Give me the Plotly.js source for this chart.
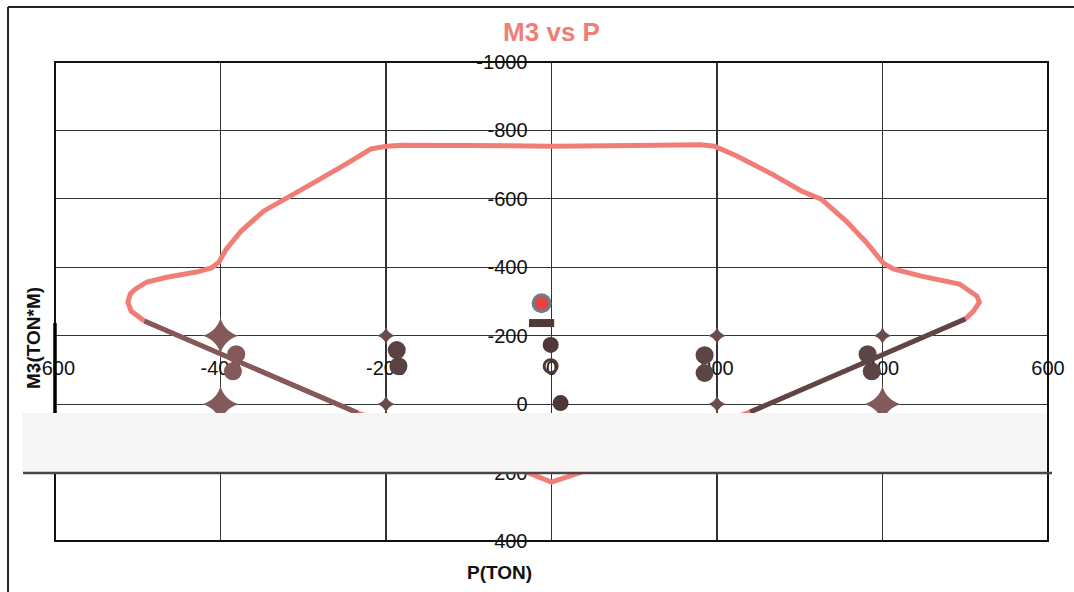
<!DOCTYPE html>
<html>
<head>
<meta charset="utf-8">
<script src="https://cdn.plot.ly/plotly-3.0.1.min.js"></script>
<style>html,body{margin:0;padding:0;background:#fff;}#chart{width:1074px;height:592px;}</style>
</head>
<body>
<div id="chart"></div>
<script>
// ---- data ----
const xTicks = [-600, -400, -200, 0, 200, 400, 600];
const xTickText = ['-600', '-400', '-200', '0', '200', '400', '600'];
const yTicks = [-1000, -800, -600, -400, -200, 0, 200, 400];
const yTickText = ['-1000', '-800', '-600', '-400', '-200', '0', '200', '400'];

// interaction curve (P, M3)
const curveP = [-492, -508, -512, -509, -503, -489, -465, -429, -411, -402, -393, -375, -348, -319, -284, -248, -218, -199, -181, -100, 0, 100, 180, 197, 224, 266, 302, 326, 356, 380, 396, 401, 413, 447, 493, 514, 517, 510, 500, 240, 36, 0, -30, -234, -492];
const curveM = [-243, -272, -298, -322, -336, -357, -371, -386, -398, -415, -453, -506, -564, -602, -652, -702, -746, -754, -757, -756, -754, -756, -758, -754, -725, -673, -623, -599, -535, -474, -430, -412, -395, -374, -351, -316, -298, -272, -249, 23, 199, 228, 199, 26, -243];

// dark lower branch segments
const lowLeftP = [-492, -234];
const lowLeftM = [-243, 26];
const lowRightP = [500, 240];
const lowRightM = [-249, 23];

// demand points
const blobP = [-381, -385, -187, -185, 185, 185, 382, 387];
const blobM = [-146, -96, -158, -111, -143, -91, -146, -96];
const stackP = [-1, 11];
const stackM = [-173, -3];
const barP = [-12];
const barM = [-237];
const ringP = [-1];
const ringM = [-111];
const hotP = [-12];
const hotM = [-295];

// grid-crossing marks
const crossBigP = [-400, -400, 400];
const crossBigM = [-200, 0, 0];
const crossSmallP = [-200, -200, 200, 200, 400];
const crossSmallM = [-200, 0, -200, 0, -200];

// ---- styling ----
const FONT = 'Liberation Sans, Arial, sans-serif';
const RED = '#f07e77';
const BROWN = '#6a4a4a';
const BROWN_L = '#84595a';
const DARK = '#4e3838';

const traces = [
  {x: curveP, y: curveM, mode: 'lines', line: {color: RED, width: 5}, hoverinfo: 'skip'},
  {x: lowLeftP, y: lowLeftM, mode: 'lines', line: {color: BROWN_L, width: 5}, hoverinfo: 'skip'},
  {x: lowRightP, y: lowRightM, mode: 'lines', line: {color: '#5e4646', width: 5}, hoverinfo: 'skip'},
  {x: crossBigP, y: crossBigM, mode: 'markers', marker: {symbol: 'star-diamond', size: 26, color: BROWN_L}, hoverinfo: 'skip'},
  {x: crossSmallP, y: crossSmallM, mode: 'markers', marker: {symbol: 'star-diamond', size: 13, color: BROWN}, hoverinfo: 'skip'},
  {x: blobP, y: blobM, mode: 'markers', marker: {symbol: 'circle', size: 18, color: [BROWN_L, BROWN_L, '#5a4242', '#5a4242', '#5c4545', '#5c4545', '#5c4545', '#5c4545']}, hoverinfo: 'skip'},
  {x: stackP, y: stackM, mode: 'markers', marker: {symbol: 'circle', size: 16, color: DARK}, hoverinfo: 'skip'},
  {x: barP, y: barM, mode: 'markers', marker: {symbol: 'line-ew', size: 18, color: DARK, line: {color: DARK, width: 8}}, hoverinfo: 'skip'},
  {x: ringP, y: ringM, mode: 'markers', marker: {symbol: 'circle-open', size: 13, color: DARK, line: {color: DARK, width: 3}}, hoverinfo: 'skip'},
  {x: hotP, y: hotM, mode: 'markers', marker: {symbol: 'circle', size: 17, color: '#e2473f', line: {color: '#6d7d92', width: 3}}, hoverinfo: 'skip'}
];

const layout = {
  width: 1074, height: 592, autosize: false,
  margin: {l: 55, r: 26, t: 62, b: 51, pad: 0},
  paper_bgcolor: '#ffffff', plot_bgcolor: '#ffffff',
  showlegend: false,
  font: {family: FONT, color: '#111'},
  title: {text: 'M3 vs P', font: {family: FONT, size: 26, color: RED, weight: 'bold'}, x: 0.5, xref: 'paper', xanchor: 'center', y: 1 - 32 / 592, yanchor: 'middle'},
  xaxis: {
    range: [-600, 600], tickmode: 'array', tickvals: xTicks, ticktext: xTickText,
    anchor: 'free', position: 0.428, showline: false, zeroline: false,
    showgrid: true, gridcolor: '#333', gridwidth: 1.2,
    ticks: '', ticklabelstandoff: 18, tickfont: {size: 20, color: '#111', family: FONT},
    layer: 'below traces', fixedrange: true
  },
  yaxis: {
    range: [400, -1000], tickmode: 'array', tickvals: yTicks, ticktext: yTickText,
    anchor: 'free', position: 0.5, side: 'left', showline: false, zeroline: false,
    showgrid: true, gridcolor: '#333', gridwidth: 1.2,
    ticks: '', ticklabelstandoff: 24, tickfont: {size: 20, color: '#111', family: FONT},
    layer: 'below traces', fixedrange: true
  },
  annotations: [
    {text: '<b>P(TON)</b>', xref: 'paper', yref: 'paper', x: (499 - 55) / 993, y: (541 - 572) / 479, xanchor: 'center', yanchor: 'middle', showarrow: false, font: {family: FONT, size: 19, color: '#111'}},
    {text: '<b>M3(TON*M)</b>', xref: 'paper', yref: 'paper', x: (33 - 55) / 993, y: (541 - 338) / 479, xanchor: 'center', yanchor: 'middle', textangle: -90, showarrow: false, font: {family: FONT, size: 19, color: '#111'}}
  ],
  shapes: [
    // outer frame
    {type: 'line', xref: 'paper', yref: 'paper', x0: -0.0473, x1: -0.0473, y0: -0.12, y1: 1.1148, line: {color: '#222', width: 2}, layer: 'above'},
    {type: 'line', xref: 'paper', yref: 'paper', x0: -0.0473, x1: 1.03, y0: 1.1148, y1: 1.1148, line: {color: '#222', width: 2}, layer: 'above'},
    // plot border
    {type: 'rect', xref: 'paper', yref: 'paper', x0: 0, x1: 1, y0: 0, y1: 1, line: {color: '#111', width: 2}, layer: 'above'},
    {type: 'line', xref: 'paper', yref: 'paper', x0: 0, x1: 0, y0: 0.267, y1: 0.455, line: {color: '#000', width: 3.5}, layer: 'above'},
    // pale band
    {type: 'rect', xref: 'paper', yref: 'paper', x0: -0.0332, x1: 0.9985, y0: 0.1441, y1: 0.2672, fillcolor: '#f6f6f6', line: {width: 0}, layer: 'above'},
    // dark line at band bottom
    {type: 'line', xref: 'paper', yref: 'paper', x0: -0.0322, x1: 1.004, y0: 0.142, y1: 0.142, line: {color: '#4d4444', width: 2.5}, layer: 'above'}
  ]
};

Plotly.newPlot('chart', traces, layout, {displayModeBar: false, staticPlot: true});
</script>
</body>
</html>
